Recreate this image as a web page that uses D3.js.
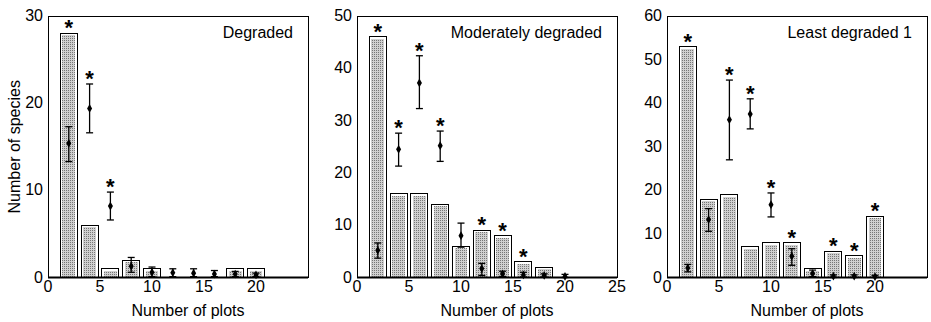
<!DOCTYPE html>
<html>
<head>
<meta charset="utf-8">
<script src="https://cdn.jsdelivr.net/npm/d3@7"></script>
<style>
  body { margin: 0; background: #fff; }
  svg { display: block; }
  text { font-family: "Liberation Sans", Arial, sans-serif; fill: #000; }
</style>
</head>
<body>
<div id="chart-area"><svg></svg></div>
<script>
const chartSize = { width: 931, height: 322 };

// number of plots a species occurs in (bar positions)
const plots = [2, 4, 6, 8, 10, 12, 14, 16, 18, 20];

const degradedBars = [28, 6, 1, 2, 1, 0, 0, 0, 1, 1];
const degradedMean = [15.4, 19.4, 8.2, 1.3, 0.6, 0.55, 0.5, 0.4, 0.4, 0.3];
const degradedLow = [13.3, 16.6, 6.6, 0.6, 0.1, 0.1, 0.1, 0.1, 0.1, 0.1];
const degradedHigh = [17.3, 22.2, 9.8, 2.3, 1.2, 1.0, 1.0, 0.8, 0.7, 0.5];
const degradedStars = [2, 4, 6];

const moderateBars = [46, 16, 16, 14, 6, 9, 8, 3, 2, 0];
const moderateMean = [5.2, 24.5, 37.2, 25.2, 8.0, 1.7, 0.7, 0.5, 0.4, 0.2];
const moderateLow = [3.7, 21.3, 32.3, 22.2, 5.8, 0.4, 0.2, 0.1, 0.1, 0.0];
const moderateHigh = [6.6, 27.6, 42.4, 28.0, 10.4, 2.7, 1.2, 1.0, 0.7, 0.6];
const moderateStars = [2, 4, 6, 8, 12, 14, 16];

const leastBars = [53, 18, 19, 7, 8, 8, 2, 6, 5, 14];
const leastMean = [2.2, 13.3, 36.2, 37.5, 16.7, 4.9, 0.9, 0.3, 0.3, 0.2];
const leastLow = [1.3, 10.6, 27.0, 34.1, 13.9, 2.8, 0.2, 0, 0, 0];
const leastHigh = [3.0, 15.8, 45.3, 41.0, 19.4, 6.6, 1.7, 0.6, 0.6, 0.5];
const leastStars = [2, 6, 8, 10, 12, 16, 18, 20];

const xTicksShort = [0, 5, 10, 15, 20];
const xTicksLong = [0, 5, 10, 15, 20, 25];

const panels = [
  { title: "Degraded", left: 48, yMax: 30, bars: degradedBars, mean: degradedMean,
    low: degradedLow, high: degradedHigh, stars: degradedStars, xTicks: xTicksShort, yLabel: true },
  { title: "Moderately degraded", left: 357, yMax: 50, bars: moderateBars, mean: moderateMean,
    low: moderateLow, high: moderateHigh, stars: moderateStars, xTicks: xTicksLong, yLabel: false },
  { title: "Least degraded 1", left: 667, yMax: 60, bars: leastBars, mean: leastMean,
    low: leastLow, high: leastHigh, stars: leastStars, xTicks: xTicksShort, yLabel: false }
];

const plotW = 260;
const plotTop = 16;
const plotBottom = 277.5;
const barWidth = 1.62;

const svg = d3.select("#chart-area svg")
  .attr("width", chartSize.width)
  .attr("height", chartSize.height);

// stipple fill used for the bars
const pattern = svg.append("defs").append("pattern")
  .attr("id", "stipple")
  .attr("width", 2).attr("height", 2)
  .attr("patternUnits", "userSpaceOnUse");
pattern.append("rect").attr("width", 2).attr("height", 2).attr("fill", "#d0d0d0");
pattern.append("rect").attr("width", 1).attr("height", 1).attr("fill", "#767676");

const drawPanel = p => {
  const x = d3.scaleLinear().domain([0, 25]).range([p.left, p.left + plotW]);
  const y = d3.scaleLinear().domain([0, p.yMax]).range([plotBottom, plotTop]);
  const g = svg.append("g");

  // bars
  const bars = g.append("g").attr("shape-rendering", "crispEdges");
  plots.forEach((v, i) => {
    if (p.bars[i] <= 0) return;
    const x0 = x(v - barWidth / 2);
    const w = x(v + barWidth / 2) - x0;
    const top = y(p.bars[i]);
    bars.append("rect")
      .attr("x", x0).attr("y", top)
      .attr("width", w).attr("height", plotBottom - top)
      .attr("fill", "#fff").attr("stroke", "#000").attr("stroke-width", 1);
    bars.append("rect")
      .attr("x", x0 + 2).attr("y", top + 2)
      .attr("width", Math.max(0, w - 4)).attr("height", Math.max(0, plotBottom - top - 2))
      .attr("fill", "url(#stipple)");
  });

  // frame
  g.append("rect")
    .attr("x", x(0)).attr("y", plotTop)
    .attr("width", plotW).attr("height", plotBottom - plotTop)
    .attr("fill", "none").attr("stroke", "#000").attr("stroke-width", 1)
    .attr("shape-rendering", "crispEdges");
  g.append("line")
    .attr("x1", x(0)).attr("x2", x(0) + plotW)
    .attr("y1", plotBottom).attr("y2", plotBottom)
    .attr("stroke", "#000").attr("stroke-width", 2);

  // error bars and means
  const err = g.append("g").attr("stroke", "#000").attr("stroke-width", 1.3);
  plots.forEach((v, i) => {
    const cx = x(v);
    err.append("line").attr("x1", cx).attr("x2", cx)
      .attr("y1", y(p.low[i])).attr("y2", y(p.high[i]));
    [p.low[i], p.high[i]].forEach(e => {
      err.append("line").attr("x1", cx - 3.5).attr("x2", cx + 3.5)
        .attr("y1", y(e)).attr("y2", y(e));
    });
  });
  g.selectAll(".mean")
    .data(plots)
    .join("path")
    .attr("class", "mean")
    .attr("transform", (v, i) => `translate(${x(v)},${y(p.mean[i])})`)
    .attr("d", d3.symbol(d3.symbolDiamond, 22))
    .attr("fill", "#000");

  // significance marks
  p.stars.forEach(v => {
    const i = plots.indexOf(v);
    const top = Math.min(y(p.bars[i]), y(p.high[i]));
    g.append("text")
      .attr("x", x(v)).attr("y", top + 2)
      .attr("text-anchor", "middle")
      .attr("font-size", 22).attr("font-weight", "bold")
      .text("*");
  });

  // tick labels
  g.selectAll(".xtick")
    .data(p.xTicks)
    .join("text")
    .attr("class", "xtick")
    .attr("x", d => x(d)).attr("y", 292)
    .attr("text-anchor", "middle").attr("font-size", 16)
    .text(d => d);
  g.selectAll(".ytick")
    .data(d3.range(0, p.yMax + 1, 10))
    .join("text")
    .attr("class", "ytick")
    .attr("x", x(0) - 5).attr("y", d => y(d) + 5)
    .attr("text-anchor", "end").attr("font-size", 16)
    .text(d => d);

  g.append("text")
    .attr("x", x(0) + plotW / 2 + 10).attr("y", 316)
    .attr("text-anchor", "middle").attr("font-size", 16)
    .text("Number of plots");

  g.append("text")
    .attr("x", x(0) + plotW - 15).attr("y", 38)
    .attr("text-anchor", "end").attr("font-size", 16)
    .text(p.title);

  if (p.yLabel) {
    g.append("text")
      .attr("transform", `translate(20,${(plotTop + plotBottom) / 2}) rotate(-90)`)
      .attr("text-anchor", "middle").attr("font-size", 16)
      .text("Number of species");
  }
};

panels.forEach(drawPanel);
</script>
</body>
</html>
